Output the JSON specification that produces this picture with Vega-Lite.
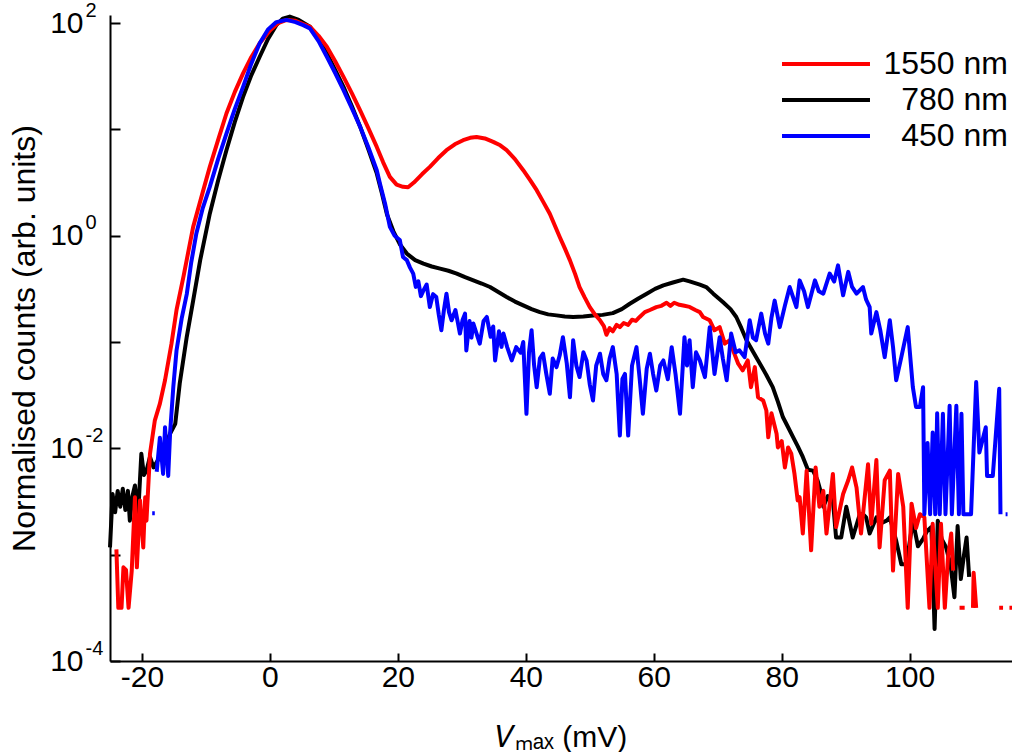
{
  "$schema": "https://vega.github.io/schema/vega-lite/v6.json",
  "width": 902,
  "height": 646,
  "autosize": {"type": "none"},
  "padding": {"left": 110, "top": 15, "right": 0, "bottom": 91},
  "background": "white",
  "config": {
    "view": {"stroke": null},
    "font": "Liberation Sans",
    "axis": {"grid": false, "domainColor": "black", "domainWidth": 2, "tickColor": "black", "tickWidth": 2, "labelColor": "black", "titleColor": "black", "labelFont": "Liberation Sans", "titleFont": "Liberation Sans", "titleFontWeight": "normal"}
  },
  "datasets": {
    "d": [
      {"s": "1550 nm", "x": -24.0, "y": 0.00112},
      {"s": "1550 nm", "x": -23.7, "y": 0.000316},
      {"s": "1550 nm", "x": -23.2, "y": 0.000316},
      {"s": "1550 nm", "x": -22.9, "y": 0.00076},
      {"s": "1550 nm", "x": -22.5, "y": 0.00072},
      {"s": "1550 nm", "x": -22.1, "y": 0.000316},
      {"s": "1550 nm", "x": -21.6, "y": 0.00071},
      {"s": "1550 nm", "x": -21.1, "y": 0.00347},
      {"s": "1550 nm", "x": -20.8, "y": 0.00076},
      {"s": "1550 nm", "x": -20.3, "y": 0.00324},
      {"s": "1550 nm", "x": -19.8, "y": 0.00117},
      {"s": "1550 nm", "x": -19.5, "y": 0.00347},
      {"s": "1550 nm", "x": -19.3, "y": 0.00209},
      {"s": "1550 nm", "x": -18.75, "y": 0.0089},
      {"s": "1550 nm", "x": -18.0, "y": 0.0182},
      {"s": "1550 nm", "x": -17.2, "y": 0.0263},
      {"s": "1550 nm", "x": -16.4, "y": 0.0437},
      {"s": "1550 nm", "x": -15.4, "y": 0.0955},
      {"s": "1550 nm", "x": -14.6, "y": 0.2},
      {"s": "1550 nm", "x": -13.5, "y": 0.417},
      {"s": "1550 nm", "x": -12.0, "y": 1.21},
      {"s": "1550 nm", "x": -10.5, "y": 2.57},
      {"s": "1550 nm", "x": -9.4, "y": 4.44},
      {"s": "1550 nm", "x": -8.0, "y": 8.3},
      {"s": "1550 nm", "x": -6.8, "y": 14.1},
      {"s": "1550 nm", "x": -5.5, "y": 22.4},
      {"s": "1550 nm", "x": -4.2, "y": 33.6},
      {"s": "1550 nm", "x": -2.9, "y": 47.9},
      {"s": "1550 nm", "x": -1.6, "y": 64.6},
      {"s": "1550 nm", "x": 0.0, "y": 85.1},
      {"s": "1550 nm", "x": 1.3, "y": 100},
      {"s": "1550 nm", "x": 2.6, "y": 107},
      {"s": "1550 nm", "x": 4.0, "y": 105},
      {"s": "1550 nm", "x": 5.2, "y": 97.7},
      {"s": "1550 nm", "x": 6.25, "y": 92.3},
      {"s": "1550 nm", "x": 7.6, "y": 75.9},
      {"s": "1550 nm", "x": 8.9, "y": 59.8},
      {"s": "1550 nm", "x": 10.2, "y": 43.7},
      {"s": "1550 nm", "x": 11.5, "y": 31.2},
      {"s": "1550 nm", "x": 12.8, "y": 21.9},
      {"s": "1550 nm", "x": 14.1, "y": 15.1},
      {"s": "1550 nm", "x": 15.4, "y": 10.2},
      {"s": "1550 nm", "x": 16.7, "y": 6.84},
      {"s": "1550 nm", "x": 17.7, "y": 4.9},
      {"s": "1550 nm", "x": 18.75, "y": 3.57},
      {"s": "1550 nm", "x": 19.8, "y": 3.02},
      {"s": "1550 nm", "x": 20.8, "y": 2.88},
      {"s": "1550 nm", "x": 21.6, "y": 2.85},
      {"s": "1550 nm", "x": 22.5, "y": 3.16},
      {"s": "1550 nm", "x": 23.8, "y": 3.8},
      {"s": "1550 nm", "x": 25.0, "y": 4.44},
      {"s": "1550 nm", "x": 26.3, "y": 5.37},
      {"s": "1550 nm", "x": 27.6, "y": 6.37},
      {"s": "1550 nm", "x": 28.9, "y": 7.24},
      {"s": "1550 nm", "x": 30.2, "y": 7.91},
      {"s": "1550 nm", "x": 31.3, "y": 8.32},
      {"s": "1550 nm", "x": 32.3, "y": 8.49},
      {"s": "1550 nm", "x": 33.6, "y": 8.22},
      {"s": "1550 nm", "x": 34.9, "y": 7.62},
      {"s": "1550 nm", "x": 36.0, "y": 7.08},
      {"s": "1550 nm", "x": 37.0, "y": 6.37},
      {"s": "1550 nm", "x": 38.3, "y": 5.25},
      {"s": "1550 nm", "x": 39.6, "y": 4.13},
      {"s": "1550 nm", "x": 40.7, "y": 3.31},
      {"s": "1550 nm", "x": 41.7, "y": 2.68},
      {"s": "1550 nm", "x": 42.7, "y": 2.09},
      {"s": "1550 nm", "x": 43.75, "y": 1.61},
      {"s": "1550 nm", "x": 44.5, "y": 1.26},
      {"s": "1550 nm", "x": 45.3, "y": 0.973},
      {"s": "1550 nm", "x": 46.1, "y": 0.759},
      {"s": "1550 nm", "x": 46.9, "y": 0.586},
      {"s": "1550 nm", "x": 47.7, "y": 0.437},
      {"s": "1550 nm", "x": 48.4, "y": 0.329},
      {"s": "1550 nm", "x": 49.2, "y": 0.263},
      {"s": "1550 nm", "x": 50.0, "y": 0.213},
      {"s": "1550 nm", "x": 50.8, "y": 0.182},
      {"s": "1550 nm", "x": 51.6, "y": 0.16},
      {"s": "1550 nm", "x": 52.2, "y": 0.141},
      {"s": "1550 nm", "x": 52.6, "y": 0.117},
      {"s": "1550 nm", "x": 53.1, "y": 0.135},
      {"s": "1550 nm", "x": 53.6, "y": 0.126},
      {"s": "1550 nm", "x": 54.2, "y": 0.145},
      {"s": "1550 nm", "x": 54.7, "y": 0.138},
      {"s": "1550 nm", "x": 55.3, "y": 0.151},
      {"s": "1550 nm", "x": 56.0, "y": 0.145},
      {"s": "1550 nm", "x": 56.6, "y": 0.162},
      {"s": "1550 nm", "x": 57.2, "y": 0.158},
      {"s": "1550 nm", "x": 57.8, "y": 0.172},
      {"s": "1550 nm", "x": 58.6, "y": 0.191},
      {"s": "1550 nm", "x": 59.4, "y": 0.2},
      {"s": "1550 nm", "x": 60.4, "y": 0.213},
      {"s": "1550 nm", "x": 61.2, "y": 0.219},
      {"s": "1550 nm", "x": 62.0, "y": 0.234},
      {"s": "1550 nm", "x": 62.6, "y": 0.219},
      {"s": "1550 nm", "x": 63.2, "y": 0.234},
      {"s": "1550 nm", "x": 64.0, "y": 0.224},
      {"s": "1550 nm", "x": 64.8, "y": 0.219},
      {"s": "1550 nm", "x": 65.6, "y": 0.214},
      {"s": "1550 nm", "x": 66.5, "y": 0.2},
      {"s": "1550 nm", "x": 67.2, "y": 0.191},
      {"s": "1550 nm", "x": 67.7, "y": 0.172},
      {"s": "1550 nm", "x": 68.75, "y": 0.16},
      {"s": "1550 nm", "x": 69.5, "y": 0.129},
      {"s": "1550 nm", "x": 70.3, "y": 0.138},
      {"s": "1550 nm", "x": 71.1, "y": 0.0964},
      {"s": "1550 nm", "x": 71.9, "y": 0.104},
      {"s": "1550 nm", "x": 72.4, "y": 0.0834},
      {"s": "1550 nm", "x": 73.2, "y": 0.0625},
      {"s": "1550 nm", "x": 73.9, "y": 0.0541},
      {"s": "1550 nm", "x": 74.7, "y": 0.0671},
      {"s": "1550 nm", "x": 75.2, "y": 0.0376},
      {"s": "1550 nm", "x": 75.8, "y": 0.0581},
      {"s": "1550 nm", "x": 76.3, "y": 0.0302},
      {"s": "1550 nm", "x": 77.1, "y": 0.0282},
      {"s": "1550 nm", "x": 77.6, "y": 0.0227},
      {"s": "1550 nm", "x": 77.9, "y": 0.0127},
      {"s": "1550 nm", "x": 78.4, "y": 0.0214},
      {"s": "1550 nm", "x": 79.2, "y": 0.0137},
      {"s": "1550 nm", "x": 79.4, "y": 0.0102},
      {"s": "1550 nm", "x": 80.0, "y": 0.0117},
      {"s": "1550 nm", "x": 80.5, "y": 0.0066},
      {"s": "1550 nm", "x": 81.0, "y": 0.0102},
      {"s": "1550 nm", "x": 81.5, "y": 0.0089},
      {"s": "1550 nm", "x": 82.0, "y": 0.00575},
      {"s": "1550 nm", "x": 82.5, "y": 0.00324},
      {"s": "1550 nm", "x": 82.8, "y": 0.00347},
      {"s": "1550 nm", "x": 83.3, "y": 0.00158},
      {"s": "1550 nm", "x": 83.9, "y": 0.00617},
      {"s": "1550 nm", "x": 84.6, "y": 0.0011},
      {"s": "1550 nm", "x": 85.3, "y": 0.00661},
      {"s": "1550 nm", "x": 85.9, "y": 0.00282},
      {"s": "1550 nm", "x": 86.5, "y": 0.00398},
      {"s": "1550 nm", "x": 87.0, "y": 0.00158},
      {"s": "1550 nm", "x": 88.0, "y": 0.00575},
      {"s": "1550 nm", "x": 88.5, "y": 0.00182},
      {"s": "1550 nm", "x": 89.6, "y": 0.00372},
      {"s": "1550 nm", "x": 90.4, "y": 0.00501},
      {"s": "1550 nm", "x": 91.0, "y": 0.00661},
      {"s": "1550 nm", "x": 91.7, "y": 0.00427},
      {"s": "1550 nm", "x": 92.4, "y": 0.00158},
      {"s": "1550 nm", "x": 93.5, "y": 0.00708},
      {"s": "1550 nm", "x": 94.0, "y": 0.00195},
      {"s": "1550 nm", "x": 94.8, "y": 0.00776},
      {"s": "1550 nm", "x": 95.3, "y": 0.00117},
      {"s": "1550 nm", "x": 96.1, "y": 0.00501},
      {"s": "1550 nm", "x": 96.9, "y": 0.00617},
      {"s": "1550 nm", "x": 97.4, "y": 0.000708},
      {"s": "1550 nm", "x": 98.2, "y": 0.00575},
      {"s": "1550 nm", "x": 99.0, "y": 0.00282},
      {"s": "1550 nm", "x": 99.7, "y": 0.000316},
      {"s": "1550 nm", "x": 100.3, "y": 0.00302},
      {"s": "1550 nm", "x": 101.0, "y": 0.00178},
      {"s": "1550 nm", "x": 101.6, "y": 0.0024},
      {"s": "1550 nm", "x": 102.3, "y": 0.00224},
      {"s": "1550 nm", "x": 103.1, "y": 0.000316},
      {"s": "1550 nm", "x": 103.6, "y": 0.00195},
      {"s": "1550 nm", "x": 104.4, "y": 0.000316},
      {"s": "1550 nm", "x": 104.9, "y": 0.00195},
      {"s": "1550 nm", "x": 105.5, "y": 0.000316},
      {"s": "1550 nm", "x": 106.0, "y": 0.000955},
      {"s": "1550 nm", "x": 106.5, "y": 0.00158},
      {"s": "1550 nm", "x": 106.8, "y": 0.000708},
      {"s": "1550 nm", "x": 107.3, "y": null},
      {"s": "1550 nm", "x": 107.8, "y": 0.000316},
      {"s": "1550 nm", "x": 108.6, "y": 0.000316},
      {"s": "1550 nm", "x": 109.2, "y": null},
      {"s": "1550 nm", "x": 109.9, "y": 0.000316},
      {"s": "1550 nm", "x": 110.0, "y": 0.000676},
      {"s": "1550 nm", "x": 110.4, "y": 0.000316},
      {"s": "1550 nm", "x": 111.0, "y": null},
      {"s": "1550 nm", "x": 114.0, "y": 0.000316},
      {"s": "1550 nm", "x": 114.6, "y": 0.000316},
      {"s": "1550 nm", "x": 115.0, "y": null},
      {"s": "1550 nm", "x": 115.6, "y": 0.000316},
      {"s": "1550 nm", "x": 116.0, "y": 0.000316},

      {"s": "780 nm", "x": -25.0, "y": 0.00117},
      {"s": "780 nm", "x": -24.6, "y": 0.00372},
      {"s": "780 nm", "x": -24.2, "y": 0.00251},
      {"s": "780 nm", "x": -23.8, "y": 0.00398},
      {"s": "780 nm", "x": -23.4, "y": 0.00282},
      {"s": "780 nm", "x": -23.0, "y": 0.00417},
      {"s": "780 nm", "x": -22.6, "y": 0.00263},
      {"s": "780 nm", "x": -22.2, "y": 0.00398},
      {"s": "780 nm", "x": -21.9, "y": 0.00209},
      {"s": "780 nm", "x": -21.5, "y": 0.00355},
      {"s": "780 nm", "x": -21.1, "y": 0.00447},
      {"s": "780 nm", "x": -20.6, "y": 0.0024},
      {"s": "780 nm", "x": -20.1, "y": 0.0089},
      {"s": "780 nm", "x": -19.7, "y": 0.00562},
      {"s": "780 nm", "x": -19.3, "y": 0.00617},
      {"s": "780 nm", "x": -18.75, "y": 0.00832},
      {"s": "780 nm", "x": -18.2, "y": 0.00661},
      {"s": "780 nm", "x": -17.2, "y": 0.00832},
      {"s": "780 nm", "x": -16.4, "y": 0.0105},
      {"s": "780 nm", "x": -15.6, "y": 0.0138},
      {"s": "780 nm", "x": -14.8, "y": 0.017},
      {"s": "780 nm", "x": -14.1, "y": 0.0407},
      {"s": "780 nm", "x": -13.0, "y": 0.112},
      {"s": "780 nm", "x": -12.0, "y": 0.245},
      {"s": "780 nm", "x": -10.9, "y": 0.589},
      {"s": "780 nm", "x": -9.4, "y": 1.61},
      {"s": "780 nm", "x": -8.1, "y": 3.31},
      {"s": "780 nm", "x": -6.8, "y": 6.37},
      {"s": "780 nm", "x": -5.5, "y": 11.7},
      {"s": "780 nm", "x": -4.2, "y": 20.2},
      {"s": "780 nm", "x": -2.9, "y": 32.4},
      {"s": "780 nm", "x": -1.6, "y": 48.2},
      {"s": "780 nm", "x": -0.3, "y": 70.8},
      {"s": "780 nm", "x": 1.0, "y": 95.5},
      {"s": "780 nm", "x": 2.0, "y": 110},
      {"s": "780 nm", "x": 3.1, "y": 115},
      {"s": "780 nm", "x": 4.5, "y": 107},
      {"s": "780 nm", "x": 6.25, "y": 92.3},
      {"s": "780 nm", "x": 7.6, "y": 70.8},
      {"s": "780 nm", "x": 8.9, "y": 51.8},
      {"s": "780 nm", "x": 10.2, "y": 36.3},
      {"s": "780 nm", "x": 11.5, "y": 25.1},
      {"s": "780 nm", "x": 12.8, "y": 16.6},
      {"s": "780 nm", "x": 14.1, "y": 10.6},
      {"s": "780 nm", "x": 15.4, "y": 6.46},
      {"s": "780 nm", "x": 16.7, "y": 3.85},
      {"s": "780 nm", "x": 17.5, "y": 2.51},
      {"s": "780 nm", "x": 18.3, "y": 1.58},
      {"s": "780 nm", "x": 19.3, "y": 1.1},
      {"s": "780 nm", "x": 20.3, "y": 0.832},
      {"s": "780 nm", "x": 21.4, "y": 0.679},
      {"s": "780 nm", "x": 22.7, "y": 0.589},
      {"s": "780 nm", "x": 24.0, "y": 0.546},
      {"s": "780 nm", "x": 25.3, "y": 0.513},
      {"s": "780 nm", "x": 26.6, "y": 0.49},
      {"s": "780 nm", "x": 27.9, "y": 0.468},
      {"s": "780 nm", "x": 29.2, "y": 0.44},
      {"s": "780 nm", "x": 30.5, "y": 0.407},
      {"s": "780 nm", "x": 31.8, "y": 0.38},
      {"s": "780 nm", "x": 33.1, "y": 0.355},
      {"s": "780 nm", "x": 34.4, "y": 0.329},
      {"s": "780 nm", "x": 35.7, "y": 0.295},
      {"s": "780 nm", "x": 37.0, "y": 0.265},
      {"s": "780 nm", "x": 38.3, "y": 0.24},
      {"s": "780 nm", "x": 39.6, "y": 0.221},
      {"s": "780 nm", "x": 40.9, "y": 0.204},
      {"s": "780 nm", "x": 42.2, "y": 0.191},
      {"s": "780 nm", "x": 43.5, "y": 0.182},
      {"s": "780 nm", "x": 44.8, "y": 0.178},
      {"s": "780 nm", "x": 46.1, "y": 0.174},
      {"s": "780 nm", "x": 47.4, "y": 0.172},
      {"s": "780 nm", "x": 49.0, "y": 0.174},
      {"s": "780 nm", "x": 50.5, "y": 0.178},
      {"s": "780 nm", "x": 52.0, "y": 0.18},
      {"s": "780 nm", "x": 53.6, "y": 0.187},
      {"s": "780 nm", "x": 55.0, "y": 0.204},
      {"s": "780 nm", "x": 56.25, "y": 0.229},
      {"s": "780 nm", "x": 57.6, "y": 0.257},
      {"s": "780 nm", "x": 58.9, "y": 0.285},
      {"s": "780 nm", "x": 60.2, "y": 0.316},
      {"s": "780 nm", "x": 61.5, "y": 0.341},
      {"s": "780 nm", "x": 63.0, "y": 0.363},
      {"s": "780 nm", "x": 64.6, "y": 0.386},
      {"s": "780 nm", "x": 65.6, "y": 0.372},
      {"s": "780 nm", "x": 67.2, "y": 0.347},
      {"s": "780 nm", "x": 68.2, "y": 0.329},
      {"s": "780 nm", "x": 69.3, "y": 0.285},
      {"s": "780 nm", "x": 70.8, "y": 0.238},
      {"s": "780 nm", "x": 72.0, "y": 0.204},
      {"s": "780 nm", "x": 72.9, "y": 0.172},
      {"s": "780 nm", "x": 73.7, "y": 0.135},
      {"s": "780 nm", "x": 74.5, "y": 0.104},
      {"s": "780 nm", "x": 75.5, "y": 0.0813},
      {"s": "780 nm", "x": 76.6, "y": 0.0625},
      {"s": "780 nm", "x": 77.6, "y": 0.049},
      {"s": "780 nm", "x": 78.6, "y": 0.0376},
      {"s": "780 nm", "x": 79.4, "y": 0.0275},
      {"s": "780 nm", "x": 80.2, "y": 0.0196},
      {"s": "780 nm", "x": 81.0, "y": 0.0158},
      {"s": "780 nm", "x": 81.8, "y": 0.0127},
      {"s": "780 nm", "x": 82.5, "y": 0.0105},
      {"s": "780 nm", "x": 83.3, "y": 0.0083},
      {"s": "780 nm", "x": 84.1, "y": 0.0063},
      {"s": "780 nm", "x": 84.9, "y": 0.00617},
      {"s": "780 nm", "x": 85.6, "y": 0.00501},
      {"s": "780 nm", "x": 86.2, "y": 0.00372},
      {"s": "780 nm", "x": 86.5, "y": 0.00282},
      {"s": "780 nm", "x": 87.2, "y": 0.00355},
      {"s": "780 nm", "x": 88.0, "y": 0.00324},
      {"s": "780 nm", "x": 88.5, "y": 0.00145},
      {"s": "780 nm", "x": 89.3, "y": 0.00145},
      {"s": "780 nm", "x": 90.1, "y": 0.00282},
      {"s": "780 nm", "x": 91.1, "y": 0.00145},
      {"s": "780 nm", "x": 92.2, "y": 0.0024},
      {"s": "780 nm", "x": 92.7, "y": 0.0024},
      {"s": "780 nm", "x": 93.2, "y": 0.00224},
      {"s": "780 nm", "x": 93.75, "y": 0.00158},
      {"s": "780 nm", "x": 94.8, "y": 0.00224},
      {"s": "780 nm", "x": 95.3, "y": 0.00195},
      {"s": "780 nm", "x": 96.4, "y": 0.00209},
      {"s": "780 nm", "x": 96.9, "y": 0.00224},
      {"s": "780 nm", "x": 97.9, "y": 0.00135},
      {"s": "780 nm", "x": 98.7, "y": 0.000813},
      {"s": "780 nm", "x": 99.5, "y": 0.000813},
      {"s": "780 nm", "x": 100.5, "y": 0.00209},
      {"s": "780 nm", "x": 101.3, "y": 0.0012},
      {"s": "780 nm", "x": 102.1, "y": 0.00141},
      {"s": "780 nm", "x": 102.7, "y": 0.00166},
      {"s": "780 nm", "x": 103.4, "y": 0.00182},
      {"s": "780 nm", "x": 103.9, "y": 0.0002},
      {"s": "780 nm", "x": 104.4, "y": 0.00209},
      {"s": "780 nm", "x": 105.0, "y": 0.00141},
      {"s": "780 nm", "x": 105.7, "y": 0.00117},
      {"s": "780 nm", "x": 106.4, "y": 0.000794},
      {"s": "780 nm", "x": 107.0, "y": 0.000398},
      {"s": "780 nm", "x": 107.5, "y": 0.00186},
      {"s": "780 nm", "x": 108.0, "y": 0.000589},
      {"s": "780 nm", "x": 108.5, "y": 0.001},
      {"s": "780 nm", "x": 108.9, "y": 0.00145},
      {"s": "780 nm", "x": 109.3, "y": 0.000617},

      {"s": "450 nm", "x": -18.4, "y": 0.00245},
      {"s": "450 nm", "x": -18.0, "y": 0.00245},
      {"s": "450 nm", "x": -17.9, "y": null},
      {"s": "450 nm", "x": -17.7, "y": 0.00603},
      {"s": "450 nm", "x": -17.2, "y": 0.0126},
      {"s": "450 nm", "x": -16.7, "y": 0.00575},
      {"s": "450 nm", "x": -16.4, "y": 0.0158},
      {"s": "450 nm", "x": -15.9, "y": 0.0055},
      {"s": "450 nm", "x": -15.6, "y": 0.0141},
      {"s": "450 nm", "x": -15.1, "y": 0.038},
      {"s": "450 nm", "x": -14.6, "y": 0.0832},
      {"s": "450 nm", "x": -13.8, "y": 0.166},
      {"s": "450 nm", "x": -13.0, "y": 0.282},
      {"s": "450 nm", "x": -12.3, "y": 0.562},
      {"s": "450 nm", "x": -11.5, "y": 1.05},
      {"s": "450 nm", "x": -10.5, "y": 1.82},
      {"s": "450 nm", "x": -9.4, "y": 2.88},
      {"s": "450 nm", "x": -8.1, "y": 5.25},
      {"s": "450 nm", "x": -6.8, "y": 9.14},
      {"s": "450 nm", "x": -5.5, "y": 15.5},
      {"s": "450 nm", "x": -4.2, "y": 25.1},
      {"s": "450 nm", "x": -2.9, "y": 41.7},
      {"s": "450 nm", "x": -1.6, "y": 64.6},
      {"s": "450 nm", "x": -0.3, "y": 87.1},
      {"s": "450 nm", "x": 1.0, "y": 102},
      {"s": "450 nm", "x": 2.6, "y": 107},
      {"s": "450 nm", "x": 4.0, "y": 102},
      {"s": "450 nm", "x": 5.2, "y": 95.5},
      {"s": "450 nm", "x": 6.25, "y": 89.1},
      {"s": "450 nm", "x": 7.6, "y": 67.6},
      {"s": "450 nm", "x": 8.9, "y": 48.2},
      {"s": "450 nm", "x": 10.2, "y": 33.9},
      {"s": "450 nm", "x": 11.5, "y": 23.4},
      {"s": "450 nm", "x": 12.8, "y": 15.8},
      {"s": "450 nm", "x": 14.1, "y": 10.6},
      {"s": "450 nm", "x": 15.4, "y": 6.76},
      {"s": "450 nm", "x": 16.7, "y": 4.13},
      {"s": "450 nm", "x": 17.2, "y": 3.09},
      {"s": "450 nm", "x": 18.0, "y": 2.0},
      {"s": "450 nm", "x": 18.75, "y": 1.21},
      {"s": "450 nm", "x": 19.5, "y": 1.0},
      {"s": "450 nm", "x": 20.3, "y": 0.912},
      {"s": "450 nm", "x": 20.8, "y": 0.631},
      {"s": "450 nm", "x": 21.4, "y": 0.589},
      {"s": "450 nm", "x": 21.9, "y": 0.501},
      {"s": "450 nm", "x": 22.4, "y": 0.44},
      {"s": "450 nm", "x": 22.8, "y": 0.33},
      {"s": "450 nm", "x": 23.2, "y": 0.372},
      {"s": "450 nm", "x": 23.6, "y": 0.27},
      {"s": "450 nm", "x": 24.0, "y": 0.306},
      {"s": "450 nm", "x": 24.5, "y": 0.347},
      {"s": "450 nm", "x": 25.0, "y": 0.213},
      {"s": "450 nm", "x": 25.5, "y": 0.282},
      {"s": "450 nm", "x": 26.0, "y": 0.265},
      {"s": "450 nm", "x": 26.4, "y": 0.18},
      {"s": "450 nm", "x": 26.8, "y": 0.129},
      {"s": "450 nm", "x": 27.2, "y": 0.2},
      {"s": "450 nm", "x": 27.6, "y": 0.285},
      {"s": "450 nm", "x": 28.0, "y": 0.19},
      {"s": "450 nm", "x": 28.4, "y": 0.16},
      {"s": "450 nm", "x": 29.0, "y": 0.2},
      {"s": "450 nm", "x": 29.4, "y": 0.15},
      {"s": "450 nm", "x": 29.7, "y": 0.12},
      {"s": "450 nm", "x": 30.1, "y": 0.16},
      {"s": "450 nm", "x": 30.5, "y": 0.185},
      {"s": "450 nm", "x": 30.7, "y": 0.0832},
      {"s": "450 nm", "x": 31.2, "y": 0.158},
      {"s": "450 nm", "x": 31.5, "y": 0.11},
      {"s": "450 nm", "x": 31.8, "y": 0.149},
      {"s": "450 nm", "x": 32.3, "y": 0.12},
      {"s": "450 nm", "x": 32.8, "y": 0.0964},
      {"s": "450 nm", "x": 33.4, "y": 0.158},
      {"s": "450 nm", "x": 33.9, "y": 0.172},
      {"s": "450 nm", "x": 34.5, "y": 0.112},
      {"s": "450 nm", "x": 34.9, "y": 0.14},
      {"s": "450 nm", "x": 35.2, "y": 0.0671},
      {"s": "450 nm", "x": 35.8, "y": 0.126},
      {"s": "450 nm", "x": 36.2, "y": 0.09},
      {"s": "450 nm", "x": 36.5, "y": 0.12},
      {"s": "450 nm", "x": 37.1, "y": 0.0891},
      {"s": "450 nm", "x": 37.8, "y": 0.0671},
      {"s": "450 nm", "x": 38.5, "y": 0.0895},
      {"s": "450 nm", "x": 39.2, "y": 0.0794},
      {"s": "450 nm", "x": 39.6, "y": 0.1},
      {"s": "450 nm", "x": 40.1, "y": 0.0211},
      {"s": "450 nm", "x": 40.5, "y": 0.08},
      {"s": "450 nm", "x": 40.9, "y": 0.129},
      {"s": "450 nm", "x": 41.3, "y": 0.06},
      {"s": "450 nm", "x": 41.7, "y": 0.0376},
      {"s": "450 nm", "x": 42.2, "y": 0.07},
      {"s": "450 nm", "x": 42.7, "y": 0.0776},
      {"s": "450 nm", "x": 43.2, "y": 0.0501},
      {"s": "450 nm", "x": 43.75, "y": 0.0326},
      {"s": "450 nm", "x": 44.2, "y": 0.07},
      {"s": "450 nm", "x": 44.8, "y": 0.0581},
      {"s": "450 nm", "x": 45.3, "y": 0.075},
      {"s": "450 nm", "x": 45.8, "y": 0.111},
      {"s": "450 nm", "x": 46.4, "y": 0.0631},
      {"s": "450 nm", "x": 46.9, "y": 0.0302},
      {"s": "450 nm", "x": 47.4, "y": 0.104},
      {"s": "450 nm", "x": 47.9, "y": 0.06},
      {"s": "450 nm", "x": 48.4, "y": 0.0468},
      {"s": "450 nm", "x": 49.0, "y": 0.08},
      {"s": "450 nm", "x": 49.5, "y": 0.0671},
      {"s": "450 nm", "x": 50.0, "y": 0.0398},
      {"s": "450 nm", "x": 50.5, "y": 0.0282},
      {"s": "450 nm", "x": 51.0, "y": 0.06},
      {"s": "450 nm", "x": 51.6, "y": 0.0776},
      {"s": "450 nm", "x": 52.1, "y": 0.05},
      {"s": "450 nm", "x": 52.6, "y": 0.0437},
      {"s": "450 nm", "x": 53.1, "y": 0.07},
      {"s": "450 nm", "x": 53.6, "y": 0.0895},
      {"s": "450 nm", "x": 54.2, "y": 0.0501},
      {"s": "450 nm", "x": 54.7, "y": 0.0132},
      {"s": "450 nm", "x": 55.1, "y": 0.045},
      {"s": "450 nm", "x": 55.5, "y": 0.0501},
      {"s": "450 nm", "x": 56.0, "y": 0.0132},
      {"s": "450 nm", "x": 56.6, "y": 0.06},
      {"s": "450 nm", "x": 57.3, "y": 0.0895},
      {"s": "450 nm", "x": 57.8, "y": 0.045},
      {"s": "450 nm", "x": 58.3, "y": 0.0211},
      {"s": "450 nm", "x": 58.9, "y": 0.0562},
      {"s": "450 nm", "x": 59.4, "y": 0.0776},
      {"s": "450 nm", "x": 59.9, "y": 0.05},
      {"s": "450 nm", "x": 60.4, "y": 0.035},
      {"s": "450 nm", "x": 61.0, "y": 0.06},
      {"s": "450 nm", "x": 61.5, "y": 0.0671},
      {"s": "450 nm", "x": 62.2, "y": 0.0447},
      {"s": "450 nm", "x": 62.8, "y": 0.0895},
      {"s": "450 nm", "x": 63.4, "y": 0.05},
      {"s": "450 nm", "x": 64.1, "y": 0.0211},
      {"s": "450 nm", "x": 64.8, "y": 0.111},
      {"s": "450 nm", "x": 65.2, "y": 0.06},
      {"s": "450 nm", "x": 65.6, "y": 0.104},
      {"s": "450 nm", "x": 66.1, "y": 0.0376},
      {"s": "450 nm", "x": 66.6, "y": 0.08},
      {"s": "450 nm", "x": 67.2, "y": 0.0671},
      {"s": "450 nm", "x": 68.0, "y": 0.0468},
      {"s": "450 nm", "x": 68.75, "y": 0.138},
      {"s": "450 nm", "x": 69.5, "y": 0.0501},
      {"s": "450 nm", "x": 70.3, "y": 0.111},
      {"s": "450 nm", "x": 70.8, "y": 0.07},
      {"s": "450 nm", "x": 71.4, "y": 0.0437},
      {"s": "450 nm", "x": 72.1, "y": 0.12},
      {"s": "450 nm", "x": 72.8, "y": 0.08},
      {"s": "450 nm", "x": 73.4, "y": 0.0834},
      {"s": "450 nm", "x": 74.2, "y": 0.0721},
      {"s": "450 nm", "x": 75.0, "y": 0.16},
      {"s": "450 nm", "x": 75.5, "y": 0.11},
      {"s": "450 nm", "x": 76.0, "y": 0.104},
      {"s": "450 nm", "x": 76.8, "y": 0.185},
      {"s": "450 nm", "x": 77.4, "y": 0.12},
      {"s": "450 nm", "x": 77.9, "y": 0.0964},
      {"s": "450 nm", "x": 78.4, "y": 0.17},
      {"s": "450 nm", "x": 78.9, "y": 0.245},
      {"s": "450 nm", "x": 79.7, "y": 0.138},
      {"s": "450 nm", "x": 80.5, "y": 0.22},
      {"s": "450 nm", "x": 81.25, "y": 0.329},
      {"s": "450 nm", "x": 82.3, "y": 0.213},
      {"s": "450 nm", "x": 82.8, "y": 0.38},
      {"s": "450 nm", "x": 83.5, "y": 0.3},
      {"s": "450 nm", "x": 84.1, "y": 0.213},
      {"s": "450 nm", "x": 85.2, "y": 0.38},
      {"s": "450 nm", "x": 85.8, "y": 0.3},
      {"s": "450 nm", "x": 86.5, "y": 0.285},
      {"s": "450 nm", "x": 87.5, "y": 0.44},
      {"s": "450 nm", "x": 88.2, "y": 0.37},
      {"s": "450 nm", "x": 88.8, "y": 0.526},
      {"s": "450 nm", "x": 89.6, "y": 0.275},
      {"s": "450 nm", "x": 90.4, "y": 0.457},
      {"s": "450 nm", "x": 91.0, "y": 0.33},
      {"s": "450 nm", "x": 91.7, "y": 0.285},
      {"s": "450 nm", "x": 92.7, "y": 0.329},
      {"s": "450 nm", "x": 93.2, "y": 0.25},
      {"s": "450 nm", "x": 93.75, "y": 0.213},
      {"s": "450 nm", "x": 94.0, "y": 0.12},
      {"s": "450 nm", "x": 94.8, "y": 0.191},
      {"s": "450 nm", "x": 95.4, "y": 0.13},
      {"s": "450 nm", "x": 96.1, "y": 0.0721},
      {"s": "450 nm", "x": 96.9, "y": 0.16},
      {"s": "450 nm", "x": 97.4, "y": 0.09},
      {"s": "450 nm", "x": 97.9, "y": 0.0437},
      {"s": "450 nm", "x": 98.7, "y": 0.0721},
      {"s": "450 nm", "x": 99.7, "y": 0.138},
      {"s": "450 nm", "x": 100.5, "y": 0.0376},
      {"s": "450 nm", "x": 101.0, "y": 0.0245},
      {"s": "450 nm", "x": 101.6, "y": 0.0245},
      {"s": "450 nm", "x": 102.1, "y": 0.0376},
      {"s": "450 nm", "x": 102.3, "y": 0.0024},
      {"s": "450 nm", "x": 102.8, "y": 0.0112},
      {"s": "450 nm", "x": 103.2, "y": 0.0024},
      {"s": "450 nm", "x": 103.6, "y": 0.0141},
      {"s": "450 nm", "x": 104.0, "y": 0.0024},
      {"s": "450 nm", "x": 104.3, "y": 0.0214},
      {"s": "450 nm", "x": 104.7, "y": 0.0024},
      {"s": "450 nm", "x": 105.2, "y": 0.0211},
      {"s": "450 nm", "x": 105.6, "y": 0.0024},
      {"s": "450 nm", "x": 106.0, "y": 0.01},
      {"s": "450 nm", "x": 106.25, "y": 0.0251},
      {"s": "450 nm", "x": 106.6, "y": 0.0024},
      {"s": "450 nm", "x": 107.3, "y": 0.0251},
      {"s": "450 nm", "x": 107.7, "y": 0.0024},
      {"s": "450 nm", "x": 108.1, "y": 0.0211},
      {"s": "450 nm", "x": 108.4, "y": 0.0024},
      {"s": "450 nm", "x": 109.6, "y": 0.0024},
      {"s": "450 nm", "x": 110.4, "y": 0.042},
      {"s": "450 nm", "x": 110.9, "y": 0.00912},
      {"s": "450 nm", "x": 111.9, "y": 0.0158},
      {"s": "450 nm", "x": 112.1, "y": 0.0055},
      {"s": "450 nm", "x": 113.0, "y": 0.0055},
      {"s": "450 nm", "x": 114.0, "y": 0.0363},
      {"s": "450 nm", "x": 114.2, "y": 0.0024},
      {"s": "450 nm", "x": 114.4, "y": null},
      {"s": "450 nm", "x": 115.0, "y": 0.0024},
      {"s": "450 nm", "x": 115.3, "y": 0.0024}
    ]
  },
  "data": {"name": "d"},
  "resolve": {"axis": {"y": "independent"}},
  "encoding": {
    "x": {"field": "x", "type": "quantitative", "scale": {"domain": [-25, 116], "nice": false, "zero": false},
      "axis": {"values": [-20, 0, 20, 40, 60, 80, 100], "tickSize": -8, "labelFontSize": 30, "labelPadding": 9, "title": "𝑉ₘₐₓ (mV)", "titleFontSize": 30, "titlePadding": 30, "labelFlush": false,
        "labelExpr": "datum.value == -20 ? '-20' : datum.label"}},
    "color": {"field": "s", "type": "nominal", "scale": {"domain": ["1550 nm", "780 nm", "450 nm"], "range": ["#ff0000", "#000000", "#0000ff"]},
      "legend": {"title": null, "orient": "none", "legendX": 699, "legendY": 32, "symbolType": "M-3,0H3", "symbolSize": 860, "symbolStrokeWidth": 4, "labelFontSize": 32, "labelOffset": 165, "labelAlign": "right", "rowPadding": 3, "labelColor": "black", "labelFont": "Liberation Sans"}}
  },
  "layer": [
    {
      "mark": {"type": "rule", "strokeWidth": 2, "color": "black"},
      "data": {"values": [{"v": 0.0002}, {"v": 0.0003}, {"v": 0.0004}, {"v": 0.0005}, {"v": 0.0006}, {"v": 0.0007}, {"v": 0.0008}, {"v": 0.0009}, {"v": 0.002}, {"v": 0.003}, {"v": 0.004}, {"v": 0.005}, {"v": 0.006}, {"v": 0.007}, {"v": 0.008}, {"v": 0.009}, {"v": 0.02}, {"v": 0.03}, {"v": 0.04}, {"v": 0.05}, {"v": 0.06}, {"v": 0.07}, {"v": 0.08}, {"v": 0.09}, {"v": 0.2}, {"v": 0.3}, {"v": 0.4}, {"v": 0.5}, {"v": 0.6}, {"v": 0.7}, {"v": 0.8}, {"v": 0.9}, {"v": 2}, {"v": 3}, {"v": 4}, {"v": 5}, {"v": 6}, {"v": 7}, {"v": 8}, {"v": 9}, {"v": 20}, {"v": 30}, {"v": 40}, {"v": 50}, {"v": 60}, {"v": 70}, {"v": 80}, {"v": 90}]},
      "encoding": {"y": {"field": "v", "type": "quantitative", "scale": {"type": "log", "domain": [0.0001, 119], "nice": false}, "axis": null}, "x": {"datum": -25}, "x2": {"datum": -24.1}, "color": {"value": "black"}}
    },
    {"transform": [{"filter": "datum.s == '780 nm'"}], "mark": {"type": "line", "strokeWidth": 4, "strokeJoin": "round"},
      "encoding": {"y": {"field": "y", "type": "quantitative", "scale": {"type": "log", "domain": [0.0001, 119], "nice": false},
        "axis": {"orient": "left", "values": [0.0001, 0.001, 0.01, 0.1, 1, 10, 100], "tickSize": -10, "labelFontSize": 30, "labelPadding": 37, "labelAlign": "right", "labelBaseline": "middle",
          "labelExpr": "datum.value == 100 || datum.value == 1 || datum.value == 0.01 || datum.value == 0.0001 ? '10' : ''",
          "title": "Normalised counts (arb. units)", "titleFontSize": 32, "titlePadding": 8, "labelFlush": false}}}},
    {"transform": [{"filter": "datum.s == '1550 nm'"}], "mark": {"type": "line", "strokeWidth": 4, "strokeJoin": "round"},
      "encoding": {"y": {"field": "y", "type": "quantitative", "axis": null}}},
    {"transform": [{"filter": "datum.s == '450 nm'"}], "mark": {"type": "line", "strokeWidth": 4, "strokeJoin": "round"},
      "encoding": {"y": {"field": "y", "type": "quantitative",
        "axis": {"orient": "left", "values": [0.0001, 0.01, 1, 100], "ticks": false, "domain": false, "labelFontSize": 20, "labelPadding": 25, "labelAlign": "left", "labelBaseline": "middle", "labelOffset": -13,
          "labelExpr": "datum.value == 100 ? '2' : datum.value == 1 ? '0' : datum.value == 0.01 ? '-2' : '-4'",
          "title": null, "labelFlush": false}}}}
  ]
}
